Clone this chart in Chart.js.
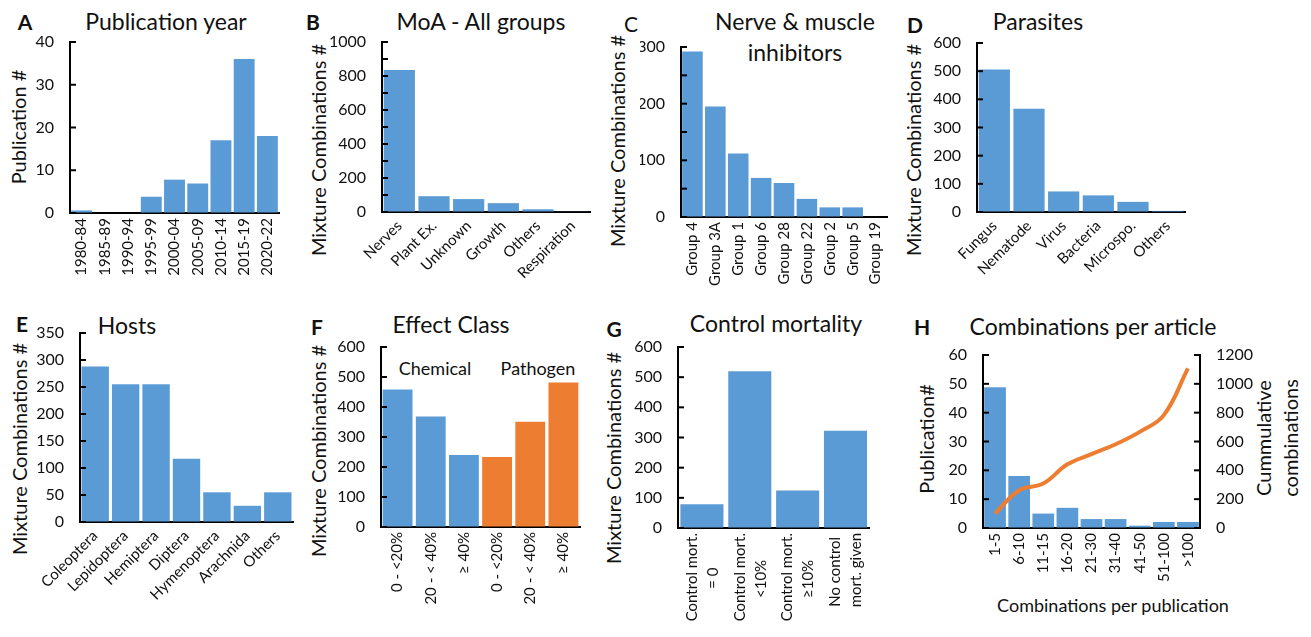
<!DOCTYPE html>
<html>
<head>
<meta charset="utf-8">
<script src="https://cdn.jsdelivr.net/npm/chart.js@4.4.0/dist/chart.umd.min.js"></script>
<style>
  body { margin: 0; width: 1311px; height: 637px; position: relative; overflow: hidden; background: #fff; font-family: Lato, sans-serif; color: #111; }
  canvas { position: absolute; }
  .t { position: absolute; white-space: nowrap; transform: translate(-50%, -50%); line-height: 1.2; }
  .ttl { font-size: 23px; }
  .ltr { font-size: 21px; font-weight: bold; }
  .yt { font-size: 20px; transform: translate(-50%, -50%) rotate(-90deg); }
</style>
</head>
<body>
<div class="t ltr" style="left:25px;top:22px">A</div>
<div class="t ltr" style="left:313px;top:22px">B</div>
<div class="t ltr" style="left:631px;top:24px;font-weight:normal">C</div>
<div class="t ltr" style="left:915px;top:25px">D</div>
<div class="t ltr" style="left:22px;top:324px">E</div>
<div class="t ltr" style="left:317px;top:327px">F</div>
<div class="t ltr" style="left:614px;top:329px">G</div>
<div class="t ltr" style="left:922px;top:327px">H</div>

<div class="t ttl" style="left:166px;top:22px">Publication year</div>
<div class="t ttl" style="left:481px;top:22px">MoA - All groups</div>
<div class="t ttl" style="left:795px;top:37px;text-align:center;line-height:31px">Nerve &amp; muscle<br>inhibitors</div>
<div class="t ttl" style="left:1038px;top:22px">Parasites</div>
<div class="t ttl" style="left:127px;top:326px">Hosts</div>
<div class="t ttl" style="left:451px;top:325px">Effect Class</div>
<div class="t ttl" style="left:776px;top:324px">Control mortality</div>
<div class="t ttl" style="left:1093px;top:327px">Combinations per article</div>

<div class="t yt" style="left:18px;top:127px">Publication #</div>
<div class="t yt" style="left:318px;top:150px">Mixture Combinations #</div>
<div class="t yt" style="left:617px;top:141px">Mixture Combinations #</div>
<div class="t yt" style="left:913px;top:150px">Mixture Combinations #</div>
<div class="t yt" style="left:19px;top:449px">Mixture Combinations #</div>
<div class="t yt" style="left:318px;top:451px">Mixture Combinations #</div>
<div class="t yt" style="left:613px;top:458px">Mixture Combinations #</div>
<div class="t yt" style="left:926px;top:439px">Publication#</div>
<div class="t yt" style="left:1277px;top:438px;text-align:center;line-height:27px">Cummulative<br>combinations</div>
<div class="t" style="left:1113px;top:606px;font-size:18px">Combinations per publication</div>

<div class="t" style="left:435px;top:369px;font-size:18px">Chemical</div>
<div class="t" style="left:538px;top:369px;font-size:18px">Pathogen</div>

<script>
// A - publication year
const yearLabels = ["1980-84", "1985-89", "1990-94", "1995-99", "2000-04", "2005-09", "2010-14", "2015-19", "2020-22"];
const yearCounts = [0.6, 0, 0, 3.8, 7.8, 6.9, 17, 36, 18];

// B - mode of action, all groups
const moaLabels = ["Nerves", "Plant Ex.", "Unknown", "Growth", "Others", "Respiration"];
const moaCounts = [835, 93, 76, 52, 16, 2];

// C - nerve & muscle inhibitors
const nerveLabels = ["Group 4", "Group 3A", "Group 1", "Group 6", "Group 28", "Group 22", "Group 2", "Group 5", "Group 19"];
const nerveCounts = [292, 195, 112, 69, 60, 32, 17, 17, 0];

// D - parasites
const parasiteLabels = ["Fungus", "Nematode", "Virus", "Bacteria", "Microspo.", "Others"];
const parasiteCounts = [506, 367, 73, 59, 36, 4];

// E - hosts
const hostLabels = ["Coleoptera", "Lepidoptera", "Hemiptera", "Diptera", "Hymenoptera", "Arachnida", "Others"];
const hostCounts = [288, 255, 255, 117, 55, 30, 55];

// F - effect class
const effectLabels = ["0 - <20%", "20 - < 40%", "≥ 40%", "0 - <20%", "20 - < 40%", "≥ 40%"];
const effectCounts = [458, 368, 240, 233, 351, 482];
const effectGroups = ["Chemical", "Chemical", "Chemical", "Pathogen", "Pathogen", "Pathogen"];

// G - control mortality
const mortalityLabels = [["Control mort.", "= 0"], ["Control mort.", "<10%"], ["Control mort.", "≥10%"], ["No control", "mort. given"]];
const mortalityCounts = [79, 520, 124, 322];

// H - combinations per article
const comboLabels = ["1-5", "6-10", "11-15", "16-20", "21-30", "31-40", "41-50", "51-100", ">100"];
const comboPubs = [48.8, 18, 5, 7, 3.1, 3.1, 0.8, 2.1, 2.1];
const comboCumulative = [100, 262, 308, 442, 512, 581, 667, 783, 1107];

const blue = "#5B9BD5";
const orange = "#ED7D31";

Chart.defaults.font.family = "Lato, sans-serif";
Chart.defaults.color = "#111";
Chart.defaults.animation = false;
Chart.defaults.plugins.legend.display = false;
Chart.defaults.plugins.tooltip.enabled = false;

// tick marks pointing into the plot, drawn over the bars
const innerTicks = {
    id: "innerTicks",
    afterDraw(chart) {
        const ctx = chart.ctx;
        ctx.save();
        ctx.strokeStyle = "#000";
        ctx.lineWidth = 2;
        Object.values(chart.scales).forEach(s => {
            if (s.axis !== "y") return;
            const x0 = s.position === "left" ? s.right : s.left;
            const dir = s.position === "left" ? 1 : -1;
            s.ticks.forEach((t, i) => {
                const y = s.getPixelForTick(i);
                ctx.beginPath();
                ctx.moveTo(x0, y);
                ctx.lineTo(x0 + dir * 6, y);
                ctx.stroke();
            });
        });
        ctx.restore();
    }
};

// pad the shorter lines of a two-line label so both lines sit centred once rotated
const measureCtx = document.createElement("canvas").getContext("2d");
function centerLines(lines, font) {
    measureCtx.font = font;
    const widths = lines.map(l => measureCtx.measureText(l).width);
    const maxW = Math.max(...widths);
    const sp = measureCtx.measureText(" ").width;
    return lines.map((l, i) => l + " ".repeat(Math.round((maxW - widths[i]) / 2 / sp)));
}

function yAxis(box, area, max, step, every, pos) {
    return {
        position: pos || "left",
        z: 1,
        min: 0,
        max: max,
        ticks: {
            stepSize: step,
            autoSkip: false,
            padding: 2,
            font: { size: 16 },
            callback: v => (v % every === 0 ? v : "")
        },
        // invisible outer ticks only keep the labels clear of the axis
        grid: { drawOnChartArea: false, drawTicks: true, tickLength: 14, tickColor: "rgba(0,0,0,0)" },
        border: { color: "#000", width: 2 },
        afterFit: s => {
            s.width = pos === "right" ? box.x + box.w - area.r : area.l - box.x;
        }
    };
}

function xAxis(box, area, rot, lh, shift) {
    return {
        z: 1,
        ticks: {
            autoSkip: false,
            minRotation: rot,
            maxRotation: rot,
            padding: 5,
            labelOffset: shift || 0,
            font: { size: 15, lineHeight: lh || 1.2 },
            callback: function (value) {
                const lab = this.getLabelForValue(value);
                return Array.isArray(lab) ? centerLines(lab, "15px Lato") : lab;
            }
        },
        grid: { display: false, drawTicks: false },
        border: { color: "#000", width: 2 },
        afterFit: s => { s.height = box.y + box.h - area.b; }
    };
}

function makePanel(box, area, labels, datasets, scales, rightAxis) {
    const c = document.createElement("canvas");
    c.width = box.w;
    c.height = box.h;
    c.style.left = box.x + "px";
    c.style.top = box.y + "px";
    c.style.width = box.w + "px";
    c.style.height = box.h + "px";
    document.body.appendChild(c);
    new Chart(c.getContext("2d"), {
        type: "bar",
        data: { labels: labels, datasets: datasets },
        options: {
            responsive: false,
            devicePixelRatio: 1,
            layout: {
                padding: { left: 0, bottom: 0, top: area.t - box.y, right: rightAxis ? 0 : box.x + box.w - area.r }
            },
            scales: scales
        },
        plugins: [innerTicks]
    });
}

function simpleBars(data, colors) {
    return [{
        data: data,
        backgroundColor: colors || blue,
        categoryPercentage: 1,
        barPercentage: 0.9,
        order: 1
    }];
}

function barChart(box, area, labels, data, max, step, every, rot, colors, lh, shift) {
    makePanel(box, area, labels, simpleBars(data, colors), {
        x: xAxis(box, area, rot, lh, shift),
        y: yAxis(box, area, max, step, every)
    });
}

barChart({ x: 30, y: 30, w: 270, h: 270 }, { l: 70, t: 42, r: 279, b: 213 },
    yearLabels, yearCounts, 40, 10, 10, 90);

barChart({ x: 325, y: 30, w: 285, h: 270 }, { l: 382, t: 42, r: 590, b: 212 },
    moaLabels, moaCounts, 1000, 100, 200, 45);

barChart({ x: 640, y: 30, w: 267, h: 270 }, { l: 681, t: 47, r: 887, b: 217 },
    nerveLabels, nerveCounts, 300, 50, 100, 90);

barChart({ x: 930, y: 30, w: 275, h: 270 }, { l: 977, t: 43, r: 1185, b: 212 },
    parasiteLabels, parasiteCounts, 600, 100, 100, 45);

barChart({ x: 35, y: 320, w: 278, h: 300 }, { l: 80, t: 333, r: 293, b: 522 },
    hostLabels, hostCounts, 350, 50, 50, 45);

barChart({ x: 335, y: 320, w: 265, h: 300 }, { l: 381, t: 347, r: 580, b: 527 },
    effectLabels, effectCounts, 600, 100, 100, 90,
    effectGroups.map(g => (g === "Chemical" ? blue : orange)));

barChart({ x: 630, y: 320, w: 265, h: 317 }, { l: 678, t: 347, r: 875, b: 528 },
    mortalityLabels, mortalityCounts, 600, 100, 100, 90, null, 1.4, -10);

// H - bars on left axis, cumulative line on right axis
const hBox = { x: 940, y: 330, w: 320, h: 260 };
const hArea = { l: 983, t: 355, r: 1200, b: 528 };
makePanel(hBox, hArea, comboLabels, [
    {
        type: "line",
        data: comboCumulative,
        yAxisID: "y2",
        borderColor: orange,
        borderWidth: 4,
        pointRadius: 0,
        tension: 0.4,
        order: 0
    },
    simpleBars(comboPubs)[0]
], {
    x: xAxis(hBox, hArea, 90),
    y: yAxis(hBox, hArea, 60, 10, 10),
    y2: yAxis(hBox, hArea, 1200, 200, 200, "right")
}, true);
</script>
</body>
</html>
